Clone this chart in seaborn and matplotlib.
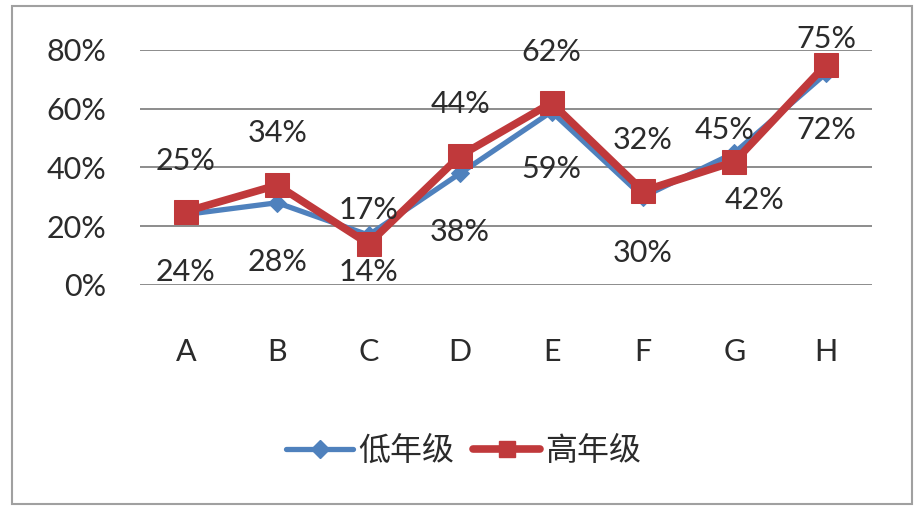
import matplotlib
matplotlib.use("Agg")
import matplotlib.pyplot as plt
from matplotlib.lines import Line2D
from matplotlib.patches import Rectangle
import seaborn as sns
import pandas as pd
import numpy as np

# ---- data ----
categories = ["A", "B", "C", "D", "E", "F", "G", "H"]
low_grade = [0.24, 0.28, 0.17, 0.38, 0.59, 0.30, 0.45, 0.72]   # 低年级
high_grade = [0.25, 0.34, 0.14, 0.44, 0.62, 0.32, 0.42, 0.75]  # 高年级
series_names = ["低年级", "高年级"]
y_ticks = [0.0, 0.2, 0.4, 0.6, 0.8]

# ---- style ----
sns.set_theme(style="white")
plt.rcParams["font.family"] = ["Lato", "Noto Sans CJK SC", "DejaVu Sans"]
BLUE = "#4F81BD"
RED = "#C0393B"
TXT = "#2b2b2b"

fig = plt.figure(figsize=(9.18, 5.08), dpi=100)
fig.patch.set_facecolor("white")
fig.patches.append(Rectangle((0.013, 0.008), 0.98, 0.98, transform=fig.transFigure,
                             fill=False, edgecolor="#a0a0a0", linewidth=1.5))

ax = fig.add_axes([0.1525, 0.439, 0.797, 0.4626])

df = pd.DataFrame({
    "x": list(range(len(categories))) * 2,
    "value": low_grade + high_grade,
    "series": [series_names[0]] * len(categories) + [series_names[1]] * len(categories),
})

sns.lineplot(data=df[df.series == series_names[0]], x="x", y="value", ax=ax,
             color=BLUE, linewidth=3.8, marker="D", markersize=9,
             markeredgecolor=BLUE, sort=False, legend=False, zorder=3)
sns.lineplot(data=df[df.series == series_names[1]], x="x", y="value", ax=ax,
             color=RED, linewidth=5.5, marker="s", markersize=17,
             markeredgecolor=RED, sort=False, legend=False, zorder=4)

ax.set_xlim(-0.5, len(categories) - 0.5)
ax.set_ylim(0, 0.8)
ax.set_yticks(y_ticks)
ax.set_yticklabels([f"{int(round(t*100))}%" for t in y_ticks])
ax.set_xticks(range(len(categories)))
ax.set_xticklabels(categories)
ax.tick_params(axis="y", length=0, pad=24, labelsize=22, labelcolor=TXT)
ax.tick_params(axis="x", length=0, pad=38, labelsize=22, labelcolor=TXT)
ax.set_xlabel("")
ax.set_ylabel("")
ax.grid(axis="y", color="#8c8c8c", linewidth=1.4)
ax.grid(axis="x", visible=False)
for s in ax.spines.values():
    s.set_visible(False)

# data labels: offsets (pixels, dx, dy screen-down) chosen to mimic reference layout
low_off = [(0, 58), (0, 59), (0, -25), (0, 59), (0, 57), (0, 56), (-10, -23), (0, 57)]
high_off = [(0, -51), (0, -52), (0, 28), (0, -52), (0, -51), (0, -51), (20, 38), (0, -26)]
px2pt = 72 / 100
for vals, offs in ((low_grade, low_off), (high_grade, high_off)):
    for i, (v, (dx, dy)) in enumerate(zip(vals, offs)):
        ax.annotate(f"{int(round(v*100))}%", (i, v), xytext=(dx * px2pt, -dy * px2pt),
                    textcoords="offset points", ha="center", va="center",
                    fontsize=22, color=TXT, zorder=5, annotation_clip=False)

handles = [
    Line2D([], [], color=BLUE, linewidth=3.8, marker="D", markersize=9),
    Line2D([], [], color=RED, linewidth=5.5, marker="s", markersize=12),
]
fig.legend(handles, series_names, loc="center", bbox_to_anchor=(0.505, 0.113),
           ncol=2, frameon=False, fontsize=23, handlelength=2.1, handletextpad=0.15,
           columnspacing=0.6, labelcolor=TXT)

fig.savefig("out.png", dpi=100, facecolor="white")
